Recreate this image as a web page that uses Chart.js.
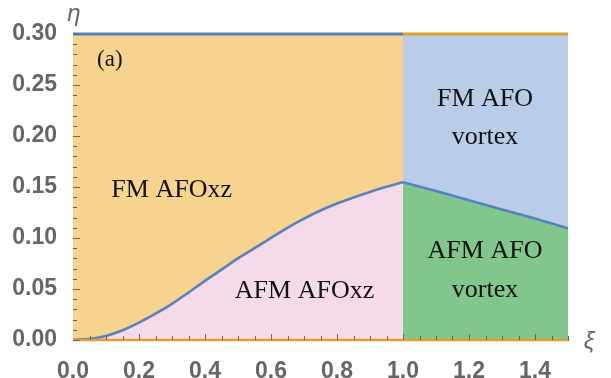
<!DOCTYPE html>
<html>
<head>
<meta charset="utf-8">
<script src="https://cdn.jsdelivr.net/npm/chart.js@4/dist/chart.umd.min.js"></script>
<style>
  html, body { margin: 0; padding: 0; background: #fff; }
  canvas { display: block; }
</style>
</head>
<body>
<canvas id="phase" width="611" height="378"></canvas>
<script>
// phase boundary, xi < 1 (AFOxz side)
const leftXi = [0, 0.05, 0.1, 0.15, 0.2, 0.25, 0.3, 0.35, 0.4, 0.45, 0.5,
  0.55, 0.6, 0.65, 0.7, 0.75, 0.8, 0.85, 0.9, 0.95, 1.0];
const leftEta = [0, 0.0012, 0.004, 0.0095, 0.017, 0.0258, 0.0355, 0.0465, 0.058, 0.069, 0.0800,
  0.0900, 0.1002, 0.1100, 0.1190, 0.1270, 0.1338, 0.1398, 0.1452, 0.1502, 0.1546];

// phase boundary, xi > 1 (vortex side)
const rightXi = [1.0, 1.1, 1.2, 1.3, 1.4, 1.5];
const rightEta = [0.1546, 0.146, 0.137, 0.128, 0.119, 0.1095];

const etaMax = 0.3;
const xTicks = [0, 0.2, 0.4, 0.6, 0.8, 1.0, 1.2, 1.4];
const yTicks = [0, 0.05, 0.1, 0.15, 0.2, 0.25, 0.3];

// region labels (data coords, baseline)
const regionLabels = [
  { text: "(a)", x: 0.073, y: 0.2686, align: "left", size: 23 },
  { text: "FM AFOxz", x: 0.299, y: 0.140 },
  { text: "AFM AFOxz", x: 0.7015, y: 0.0412 },
  { text: "FM AFO", x: 1.2485, y: 0.2294 },
  { text: "vortex", x: 1.2485, y: 0.1922 },
  { text: "AFM AFO", x: 1.2485, y: 0.0804 },
  { text: "vortex", x: 1.2485, y: 0.0422 },
];

const pts = (xs, ys) => xs.map((x, i) => ({ x, y: ys[i] }));

const C = {
  orange: "#f6d38f",
  pink: "#f5dbe9",
  blue: "#b9cde9",
  green: "#80c68d",
  line: "#5a80bf",
  gold: "#e0a02a",
  axis: "#666666",
};

const extras = {
  id: "extras",
  afterDatasetsDraw(chart) {
    const { ctx, chartArea: a, scales } = chart;
    const x = scales.x, y = scales.y;
    ctx.save();
    // inward minor/major ticks
    ctx.strokeStyle = C.axis;
    ctx.lineWidth = 1;
    for (let i = 0; i <= 30; i++) {
      const py = Math.round(y.getPixelForValue(i / 100)) + 0.5;
      const len = i % 5 === 0 ? 7 : 4;
      ctx.beginPath();
      ctx.moveTo(a.left, py);
      ctx.lineTo(a.left + len, py);
      ctx.stroke();
    }
    for (let i = 1; i <= 30; i++) {
      const px = Math.round(x.getPixelForValue(i / 20)) + 0.5;
      const len = i % 4 === 0 ? 6 : 4;
      ctx.beginPath();
      ctx.moveTo(px, a.bottom);
      ctx.lineTo(px, a.bottom - len);
      ctx.stroke();
    }
    // region labels
    ctx.fillStyle = "#111";
    ctx.textBaseline = "alphabetic";
    regionLabels.forEach((l) => {
      ctx.font = (l.size || 26) + 'px "Liberation Serif", serif';
      ctx.textAlign = l.align || "center";
      ctx.fillText(l.text, x.getPixelForValue(l.x), y.getPixelForValue(l.y));
    });
    // axis names
    ctx.fillStyle = C.axis;
    ctx.font = 'italic 24px "Liberation Sans", sans-serif';
    ctx.textAlign = "center";
    ctx.fillText("η", a.left + 1, a.top - 13);
    ctx.fillText("ξ", a.right + 21, a.bottom + 9);
    ctx.restore();
  },
};

new Chart(document.getElementById("phase"), {
  type: "line",
  data: {
    datasets: [
      {
        data: pts([0, 1], [0, 0]),
        borderColor: C.gold,
        borderWidth: 2.5,
        fill: false,
        clip: false,
        order: 1,
      },
      {
        data: pts([0, 1], [etaMax, etaMax]),
        borderColor: C.line,
        borderWidth: 3,
        fill: false,
        clip: false,
        order: 1,
      },
      {
        data: pts([1, 1.5], [etaMax, etaMax]),
        borderColor: C.gold,
        borderWidth: 3,
        fill: false,
        clip: false,
        order: 1,
      },
      {
        data: pts([1, 1.5], [0, 0]),
        borderColor: C.gold,
        borderWidth: 2.5,
        fill: false,
        clip: false,
        order: 1,
      },
      {
        data: pts(leftXi, leftEta),
        borderColor: C.line,
        borderWidth: 2.6,
        backgroundColor: C.pink,
        fill: "origin",
        cubicInterpolationMode: "monotone",
        order: 3,
      },
      {
        data: pts(rightXi, rightEta),
        borderColor: C.line,
        borderWidth: 2.6,
        backgroundColor: C.green,
        fill: "origin",
        tension: 0,
        order: 3,
      },
      {
        data: pts([0, 1], [etaMax, etaMax]),
        borderWidth: 0,
        backgroundColor: C.orange,
        fill: "origin",
        order: 5,
      },
      {
        data: pts([1, 1.5], [etaMax, etaMax]),
        borderWidth: 0,
        backgroundColor: C.blue,
        fill: "origin",
        order: 5,
      },
    ],
  },
  options: {
    responsive: false,
    animation: false,
    layout: { padding: { top: 34, right: 43, left: 0, bottom: 0 } },
    elements: { point: { radius: 0 } },
    plugins: { legend: { display: false }, tooltip: { enabled: false } },
    scales: {
      x: {
        type: "linear",
        min: 0,
        max: 1.5,
        grid: { display: false },
        border: { display: true, color: C.axis, width: 1 },
        afterBuildTicks: (s) => { s.ticks = xTicks.map((v) => ({ value: v })); },
        afterFit: (s) => { s.height = 38; },
        ticks: {
          padding: 10,
          color: C.axis,
          font: { family: '"Liberation Sans", Arial, sans-serif', size: 23, weight: "bold" },
          callback: (v) => Number(v).toFixed(1),
          maxRotation: 0,
        },
      },
      y: {
        type: "linear",
        min: 0,
        max: etaMax,
        grid: { display: false },
        border: { display: true, color: C.axis, width: 1 },
        afterBuildTicks: (s) => { s.ticks = yTicks.map((v) => ({ value: v })); },
        afterFit: (s) => { s.width = 73; },
        ticks: {
          padding: 8,
          color: C.axis,
          font: { family: '"Liberation Sans", Arial, sans-serif', size: 23, weight: "bold" },
          callback: (v) => Number(v).toFixed(2),
        },
      },
    },
  },
  plugins: [extras],
});
</script>
</body>
</html>
